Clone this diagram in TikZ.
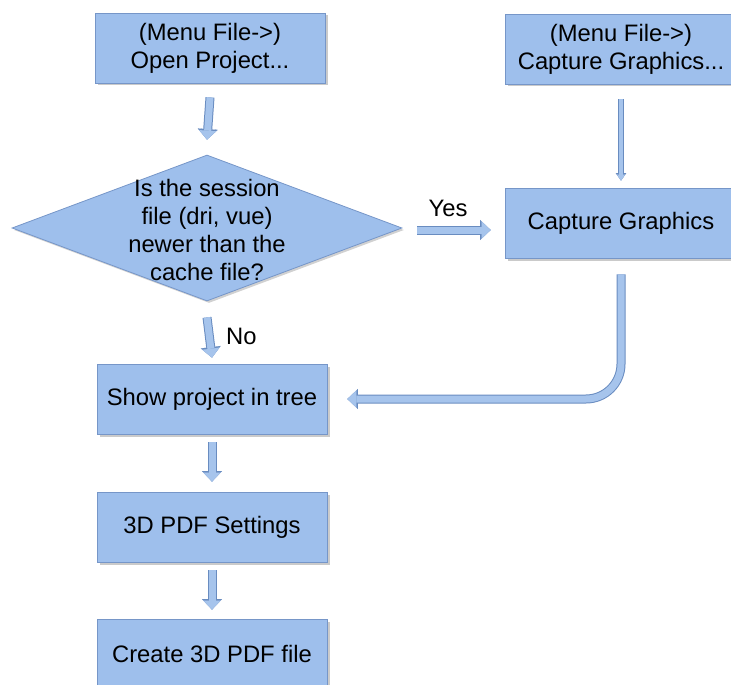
\documentclass[tikz,border=0pt]{standalone}
\usepackage{fontspec}
\setmainfont{Liberation Sans}
\usetikzlibrary{arrows.meta,shapes.geometric,shadows}
\definecolor{boxfill}{RGB}{158,191,236}
\definecolor{boxedge}{RGB}{118,150,200}
\definecolor{arrowfill}{RGB}{166,196,236}
\definecolor{arrowedge}{RGB}{105,140,192}
\tikzset{
  box/.style={draw=boxedge, line width=0.8pt, fill=boxfill, minimum width=230pt, minimum height=70pt,
    inner sep=0pt, align=center, font=\fontsize{23.8pt}{28pt}\selectfont,
    drop shadow={shadow xshift=2.5pt, shadow yshift=-2.5pt, opacity=0.35, fill=black!60}},
  decision/.style={diamond, draw=boxedge, line width=0.8pt, fill=boxfill, minimum width=390pt, minimum height=146pt,
    inner sep=0pt, aspect=2.7,
    drop shadow={shadow xshift=2pt, shadow yshift=-2pt, opacity=0.3, fill=black!60}},
  dtext/.style={align=center, inner sep=0pt, font=\fontsize{23.8pt}{28pt}\selectfont},
  lbl/.style={inner sep=0pt, font=\fontsize{23.8pt}{28pt}\selectfont},
  flow/.style={line width=7pt, draw=arrowfill,
    -{Triangle[width=17pt,length=9pt,line width=0.1pt]},
    preaction={draw=arrowedge, line width=9pt, -{Triangle[width=20pt,length=10.5pt,line width=0.1pt]}}},
  thinflow/.style={line width=4pt, draw=arrowfill,
    -{Triangle[width=8pt,length=6pt,line width=0.1pt]},
    preaction={draw=arrowedge, line width=5.6pt, -{Triangle[width=10.5pt,length=7.5pt,line width=0.1pt]}}},
}
\begin{document}
\begin{tikzpicture}[x=1pt,y=-1pt]
\useasboundingbox (0,0) rectangle (731,685);
\node[box] (open) at (210,48) {(Menu File->)\\Open Project...};
\node[box, minimum width=232pt] (mcap) at (621,49) {(Menu File->)\\Capture Graphics...};
\node[decision] (dec) at (207,228) {};
\node[dtext] (dectext) at (207,230) {Is the session\\file (dri, vue)\\newer than the\\cache file?};
\node[box, minimum width=232pt] (cap) at (621,223) {Capture Graphics};
\node[box] (show) at (212,399) {Show project in tree};
\node[box] (set) at (212,527) {3D PDF Settings};
\node[box] (create) at (212,654) {Create 3D PDF file};

\draw[flow] ([yshift=-14pt]open.south) -- ([yshift=15pt]dec.north);
\draw[thinflow] ([yshift=-15pt]mcap.south) -- ([yshift=7pt]cap.north);
\draw[flow] ([xshift=15pt,yshift=-2pt]dec.east) -- ([xshift=-14pt,yshift=-2pt]cap.west |- dec.east);
\node[lbl] (yes) at (448,208) {Yes};
\draw[flow] ([yshift=-16pt]dec.south) -- ([yshift=6pt]show.north);
\node[lbl, anchor=west] (no) at (226,336) {No};
\draw[flow, rounded corners=35pt] ([yshift=-16pt]cap.south) |- ([xshift=20pt]show.east);
\draw[flow] ([yshift=-8pt]show.south) -- ([yshift=10pt]set.north);
\draw[flow] ([yshift=-8pt]set.south) -- ([yshift=9pt]create.north);
\end{tikzpicture}
\end{document}
